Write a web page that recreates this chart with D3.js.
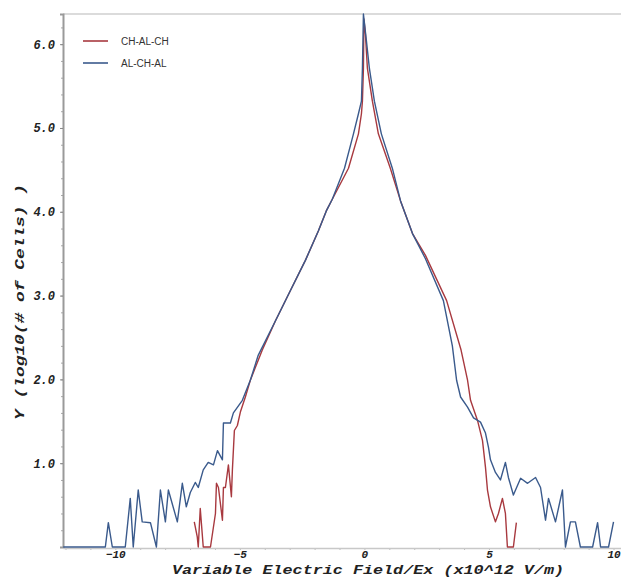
<!DOCTYPE html>
<html>
<head>
<meta charset="utf-8">
<script src="https://cdn.jsdelivr.net/npm/d3@7"></script>
<style>
  body { margin: 0; background: #fff; }
  .tick-label { font-family: "Liberation Mono", "Courier New", monospace; font-weight: bold; font-style: italic; font-size: 12px; fill: #222; }
  .x-tick { font-size: 11px; }
  .axis-title { font-family: "Liberation Mono", "Courier New", monospace; font-weight: bold; font-style: italic; font-size: 12px; fill: #222; }
  .legend-text { font-family: "Liberation Sans", Arial, sans-serif; font-size: 10px; fill: #333; }
</style>
</head>
<body>
<div class="chart"></div>
<script>
// CH-AL-CH (red)
var redField = [-6.83, -6.71, -6.67, -6.59, -6.47, -6.18, -5.98, -5.94, -5.86, -5.70, -5.66, -5.58, -5.46, -5.34, -5.30, -5.22, -5.10, -4.98, -4.78, -4.58,
  -4.10, -3.57, -2.97, -2.37, -1.85, -1.53, -1.29, -0.64, -0.24, -0.12, -0.08, -0.04, -0.02,
  0.04, 0.12, 0.32, 0.56, 1.04, 1.45, 1.93, 2.45, 3.30, 3.88, 4.14, 4.26, 4.54, 4.74, 4.86, 4.94, 5.06, 5.26, 5.38, 5.54, 5.66, 5.74, 5.98, 6.10];
var redLog = [0.30, 0.12, 0, 0.46, 0, 0, 0.40, 0.76, 0.71, 0.32, 0.71, 0.71, 0.98, 0.60, 0.92, 1.39, 1.45, 1.61, 1.79, 1.99,
  2.35, 2.70, 3.06, 3.42, 3.77, 4.01, 4.15, 4.52, 4.93, 5.17, 5.32, 5.71, 6.30,
  6.12, 5.71, 5.32, 4.93, 4.52, 4.13, 3.74, 3.48, 2.94, 2.35, 1.99, 1.75, 1.51, 1.27, 0.95, 0.68, 0.48, 0.30, 0.40, 0.58, 0.40, 0, 0, 0.29];

// AL-CH-AL (blue)
var blueField = [-12.09, -10.40, -10.28, -10.12, -9.60, -9.40, -9.28, -9.08, -8.92, -8.59, -8.35, -8.19, -7.99, -7.87, -7.51, -7.31, -7.15, -6.99, -6.79, -6.67,
  -6.47, -6.27, -6.06, -5.90, -5.70, -5.66, -5.38, -5.26, -4.90, -4.58, -4.26, -3.57, -2.97, -2.37, -1.85, -1.53, -1.29, -0.80, -0.44, -0.24, -0.12, -0.08, -0.04,
  0.08, 0.20, 0.40, 0.68, 1.12, 1.45, 1.93, 2.45, 3.17, 3.53, 3.70, 3.86, 4.14, 4.38, 4.66, 4.86, 4.98, 5.06, 5.26, 5.46, 5.66, 5.78, 5.98,
  6.27, 6.55, 6.87, 7.07, 7.27, 7.39, 7.67, 7.95, 8.07, 8.27, 8.47, 8.67, 9.16, 9.36, 9.48, 9.80, 10.00];
var blueLog = [0, 0, 0.29, 0, 0, 0.58, 0, 0.68, 0.30, 0.29, 0, 0.68, 0.30, 0.68, 0.30, 0.76, 0.48, 0.65, 0.77, 0.71,
  0.92, 1.01, 0.98, 1.15, 1.04, 1.48, 1.48, 1.60, 1.75, 1.99, 2.29, 2.70, 3.06, 3.42, 3.77, 4.01, 4.15, 4.52, 4.93, 5.17, 5.32, 5.71, 6.36,
  6.04, 5.71, 5.32, 4.93, 4.52, 4.13, 3.74, 3.44, 2.94, 2.40, 1.99, 1.79, 1.67, 1.54, 1.49, 1.36, 1.19, 1.04, 0.89, 0.80, 1.01, 0.83, 0.62,
  0.82, 0.76, 0.83, 0.71, 0.32, 0.58, 0.30, 0.68, 0, 0.30, 0.30, 0, 0, 0.29, 0, 0, 0.30];

var seriesNames = ["CH-AL-CH", "AL-CH-AL"];
var seriesColors = ["#a8393f", "#3a5a8c"];
var xTicks = [-10, -5, 0, 5, 10];
var yTicks = [1.0, 2.0, 3.0, 4.0, 5.0, 6.0];

var svgWidth = 621;
var svgHeight = 578;
var plotLeft = 63, plotTop = 14, plotRight = 621, plotBottom = 548;

var svg = d3.select(".chart")
  .append("svg")
  .attr("width", svgWidth)
  .attr("height", svgHeight);

var x = d3.scaleLinear().domain([-12.1, 10.3]).range([plotLeft, plotRight]);
var y = d3.scaleLinear().domain([0, 6.36]).range([plotBottom - 1, plotTop]);

// frame
svg.append("line")
  .attr("x1", plotLeft).attr("x2", plotRight).attr("y1", plotTop).attr("y2", plotTop)
  .attr("stroke", "#cfcfcf").attr("stroke-width", 1.5);

// minor ticks
svg.append("g")
  .attr("transform", "translate(" + plotLeft + ",0)")
  .call(d3.axisLeft(y).tickValues(d3.range(0.2, 6.3, 0.2)).tickSize(2).tickFormat(""))
  .call(function(g) { g.select(".domain").remove(); g.selectAll("line").attr("stroke", "#aaa"); });
svg.append("g")
  .attr("transform", "translate(0," + plotBottom + ")")
  .call(d3.axisBottom(x).tickValues(d3.range(-12, 11, 1)).tickSize(2).tickFormat(""))
  .call(function(g) { g.select(".domain").remove(); g.selectAll("line").attr("stroke", "#bbb"); });

// y axis
var yAxis = svg.append("g")
  .attr("transform", "translate(" + plotLeft + ",0)")
  .call(d3.axisLeft(y).tickValues(yTicks).tickSize(3).tickPadding(5).tickFormat(d3.format(".1f")));
yAxis.attr("font-family", null).attr("font-size", null);
yAxis.select(".domain").attr("stroke", "#9a9a9a").attr("stroke-width", 2);
yAxis.selectAll(".tick line").attr("stroke", "#888");
yAxis.selectAll("text").attr("class", "tick-label");

// x axis
var xAxis = svg.append("g")
  .attr("transform", "translate(0," + plotBottom + ")")
  .call(d3.axisBottom(x).tickValues(xTicks).tickSize(0).tickPadding(2));
xAxis.attr("font-family", null).attr("font-size", null);
xAxis.select(".domain").attr("stroke", "#c8c8c8").attr("stroke-width", 1.5);
xAxis.selectAll("text").attr("class", "tick-label x-tick");

// lines
var series = [
  d3.zip(redField, redLog),
  d3.zip(blueField, blueLog)
];
var line = d3.line()
  .x(function(d) { return x(d[0]); })
  .y(function(d) { return y(d[1]); });

svg.selectAll("path.series")
  .data(series)
  .enter()
  .append("path")
  .attr("class", "series")
  .attr("fill", "none")
  .attr("stroke", function(d, i) { return seriesColors[i]; })
  .attr("stroke-width", 1.4)
  .attr("stroke-linejoin", "round")
  .attr("d", line);

// axis titles
svg.append("text")
  .attr("class", "axis-title")
  .attr("x", 368)
  .attr("y", 574)
  .attr("text-anchor", "middle")
  .attr("textLength", 392)
  .attr("lengthAdjust", "spacingAndGlyphs")
  .text("Variable Electric Field/Ex (x10^12 V/m)");

svg.append("text")
  .attr("class", "axis-title")
  .attr("transform", "translate(24,302) rotate(-90)")
  .attr("text-anchor", "middle")
  .attr("textLength", 236)
  .attr("lengthAdjust", "spacingAndGlyphs")
  .text("Y (log10(# of Cells) )");

// legend
var legend = svg.selectAll("g.legend")
  .data(seriesNames)
  .enter()
  .append("g")
  .attr("class", "legend")
  .attr("transform", function(d, i) { return "translate(83," + (41 + i * 22) + ")"; });
legend.append("line")
  .attr("x1", 0).attr("x2", 25)
  .attr("stroke", function(d, i) { return seriesColors[i]; })
  .attr("stroke-width", 1.6);
legend.append("text")
  .attr("class", "legend-text")
  .attr("x", 38)
  .attr("y", 4)
  .text(function(d) { return d; });
</script>
</body>
</html>
